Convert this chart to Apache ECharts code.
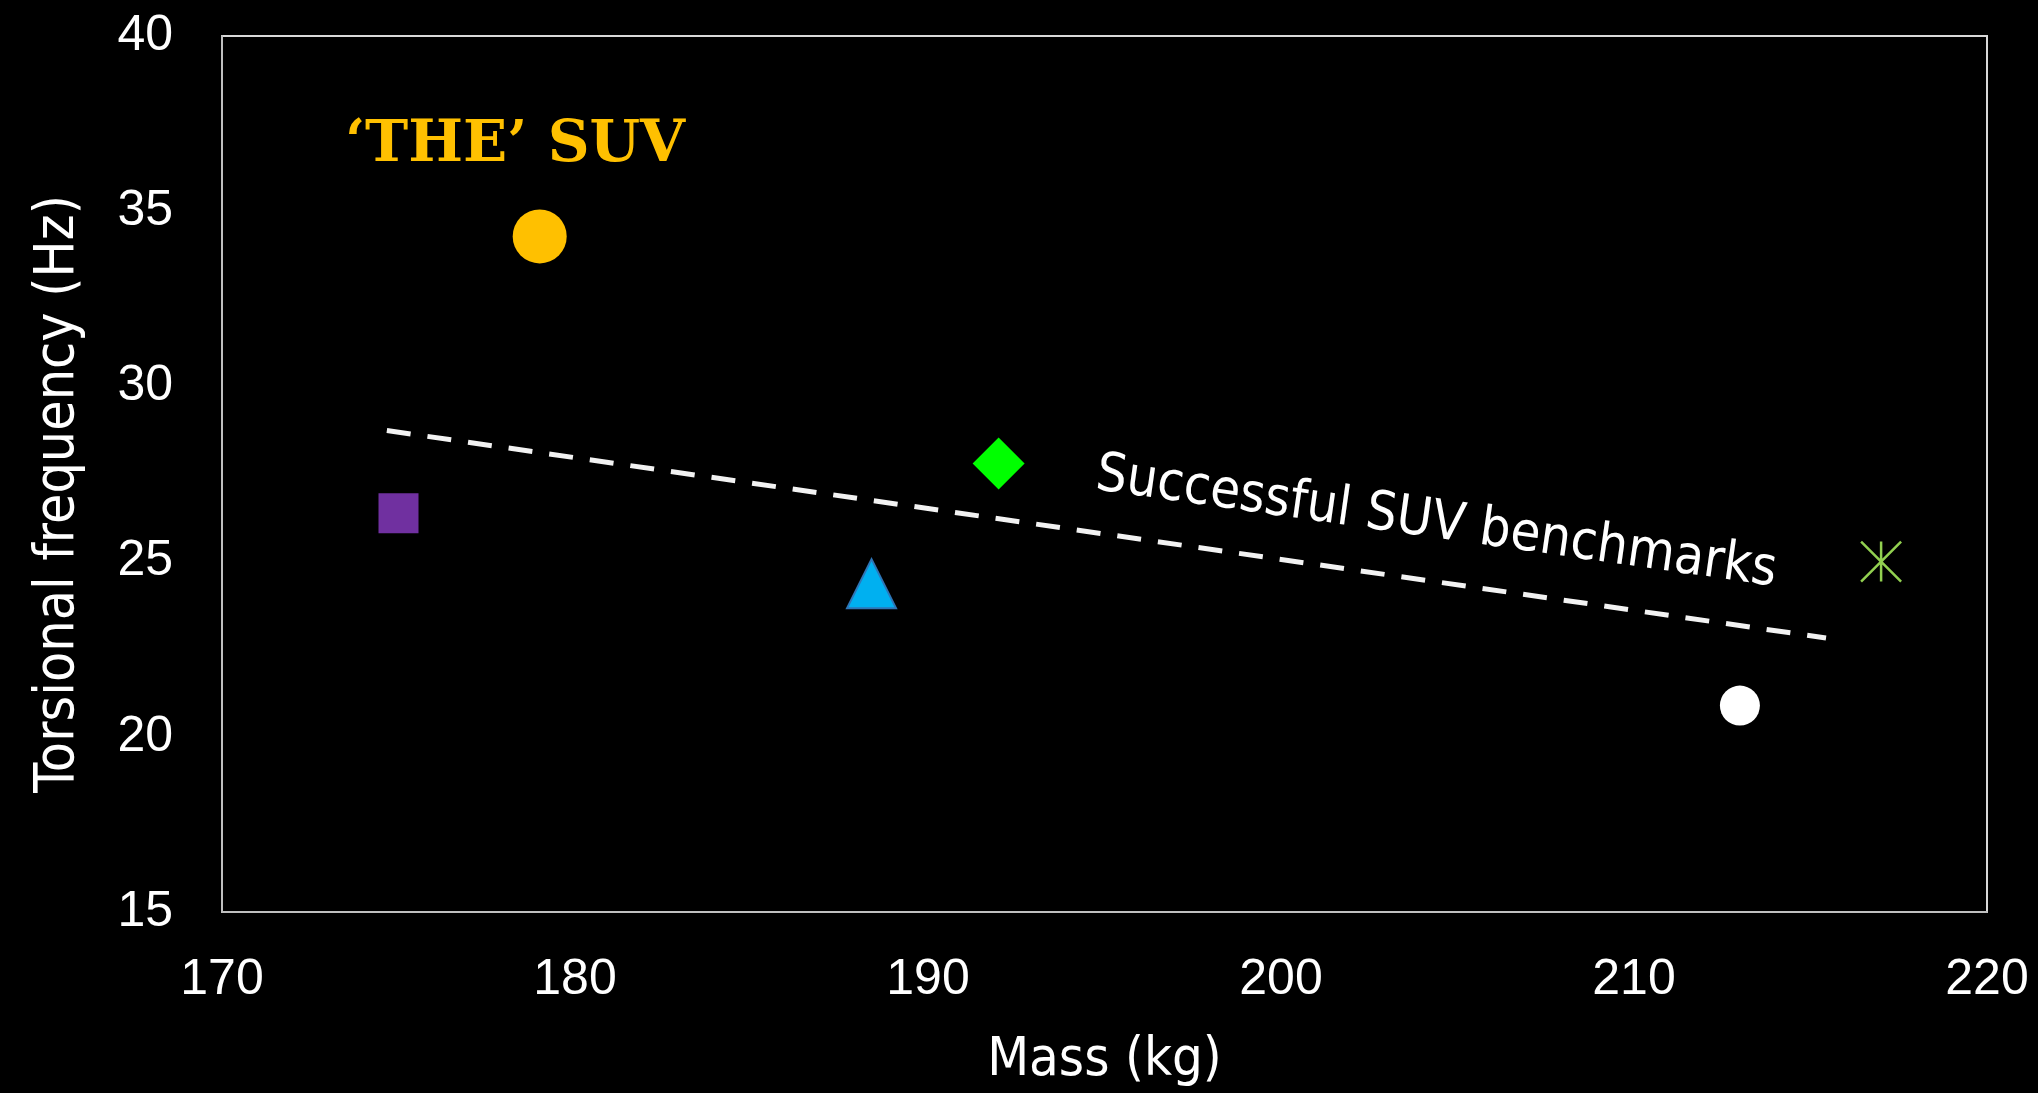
<!DOCTYPE html>
<html>
<head>
<meta charset="utf-8">
<script src="https://cdn.jsdelivr.net/npm/echarts@6/dist/echarts.min.js"></script>
<style>
  html, body { margin: 0; padding: 0; background: #000; }
  #chart { width: 2038px; height: 1093px; }
</style>
</head>
<body>
<div id="chart"></div>
<script>
// ---- Data ----
const vehicleNames = ['THE SUV', 'Benchmark A', 'Benchmark B', 'Benchmark C', 'Benchmark D', 'Benchmark E'];
const massKg = [179.0, 175.0, 188.4, 192.0, 213.0, 217.0];
const torsionHz = [34.28, 26.38, 24.37, 27.8, 20.89, 25.0];
const trendMass = [174.67, 215.44];
const trendHz = [28.74, 22.82];
const xTicks = [170, 180, 190, 200, 210, 220];
const yTicks = [15, 20, 25, 30, 35, 40];
const annotationTexts = ['\u2018THE\u2019 SUV', 'Successful SUV benchmarks'];
const annotationMass = [178.3, 204.4];
const annotationHz = [36.87, 26.09];

// ---- Styles ----
const markerStyles = [
  { symbol: 'circle', size: 54, color: '#FFC000' },
  { symbol: 'rect', size: 40, color: '#7030A0' },
  { symbol: 'triangle', size: 49, color: '#00B0F0', border: '#2E75B6', bw: 2 },
  { symbol: 'diamond', size: 52, color: '#00FF00' },
  { symbol: 'circle', size: 40, color: '#FFFFFF' },
  { symbol: 'path://M0,0L10,10M10,0L0,10M5,0L5,10', size: 40, color: 'rgba(0,0,0,0)', border: '#92D050', bw: 2.5 }
];
const condensed = '"DejaVu Sans Condensed", "Liberation Sans Narrow", "DejaVu Sans", sans-serif';

const series = [];
vehicleNames.forEach((name, i) => {
  const st = markerStyles[i];
  series.push({
    name: name,
    type: 'scatter',
    data: [[massKg[i], torsionHz[i]]],
    symbol: st.symbol,
    symbolSize: st.size,
    itemStyle: {
      color: st.color,
      borderColor: st.border || st.color,
      borderWidth: st.bw || 0,
      opacity: 1
    },
    z: 5
  });
});

series.push({
  name: 'Trend',
  type: 'line',
  data: trendMass.map((m, i) => [m, trendHz[i]]),
  symbol: 'none',
  lineStyle: { color: '#F2F2F2', width: 5, type: [24, 17] },
  z: 3
});

series.push({
  name: 'Title annotation',
  type: 'scatter',
  data: [[annotationMass[0], annotationHz[0]]],
  symbolSize: 0,
  silent: true,
  itemStyle: { opacity: 1 },
  label: {
    show: true,
    position: 'inside',
    formatter: annotationTexts[0],
    color: '#FFC000',
    opacity: 1,
    fontFamily: '"DejaVu Serif", "Liberation Serif", serif',
    fontWeight: 'bold',
    fontSize: 58
  }
});

series.push({
  name: 'Trend annotation',
  type: 'scatter',
  data: [[annotationMass[1], annotationHz[1]]],
  symbolSize: 0,
  silent: true,
  itemStyle: { opacity: 1 },
  label: {
    show: true,
    position: 'inside',
    formatter: annotationTexts[1],
    color: '#FFFFFF',
    opacity: 1,
    fontFamily: condensed,
    fontSize: 54,
    rotate: -8.1
  }
});

const chart = echarts.init(document.getElementById('chart'));
chart.setOption({
  backgroundColor: '#000000',
  animation: false,
  grid: {
    left: 222, right: 51, top: 36, bottom: 178,
    show: true, borderColor: '#D9D9D9', borderWidth: 2, backgroundColor: 'transparent'
  },
  xAxis: {
    type: 'value',
    min: xTicks[0], max: xTicks[xTicks.length - 1], interval: 10,
    name: 'Mass (kg)',
    nameLocation: 'middle',
    nameGap: 122,
    nameTextStyle: { color: '#FFFFFF', fontSize: 54, fontFamily: condensed },
    axisLine: { show: true, lineStyle: { color: '#BFBFBF', width: 2 } },
    axisTick: { show: false },
    splitLine: { show: false },
    axisLabel: { color: '#FFFFFF', fontSize: 50, fontFamily: '"Liberation Sans", Arial, sans-serif', margin: 43 }
  },
  yAxis: {
    type: 'value',
    min: yTicks[0], max: yTicks[yTicks.length - 1], interval: 5,
    name: 'Torsional frequency (Hz)',
    nameLocation: 'middle',
    nameRotate: 90,
    nameGap: 136,
    nameTextStyle: { color: '#FFFFFF', fontSize: 55, fontFamily: condensed, padding: [0, 40, 0, 0] },
    axisLine: { show: true, lineStyle: { color: '#BFBFBF', width: 2 } },
    axisTick: { show: false },
    splitLine: { show: false },
    axisLabel: { color: '#FFFFFF', fontSize: 50, fontFamily: '"Liberation Sans", Arial, sans-serif', margin: 49 }
  },
  series: series
});
</script>
</body>
</html>
